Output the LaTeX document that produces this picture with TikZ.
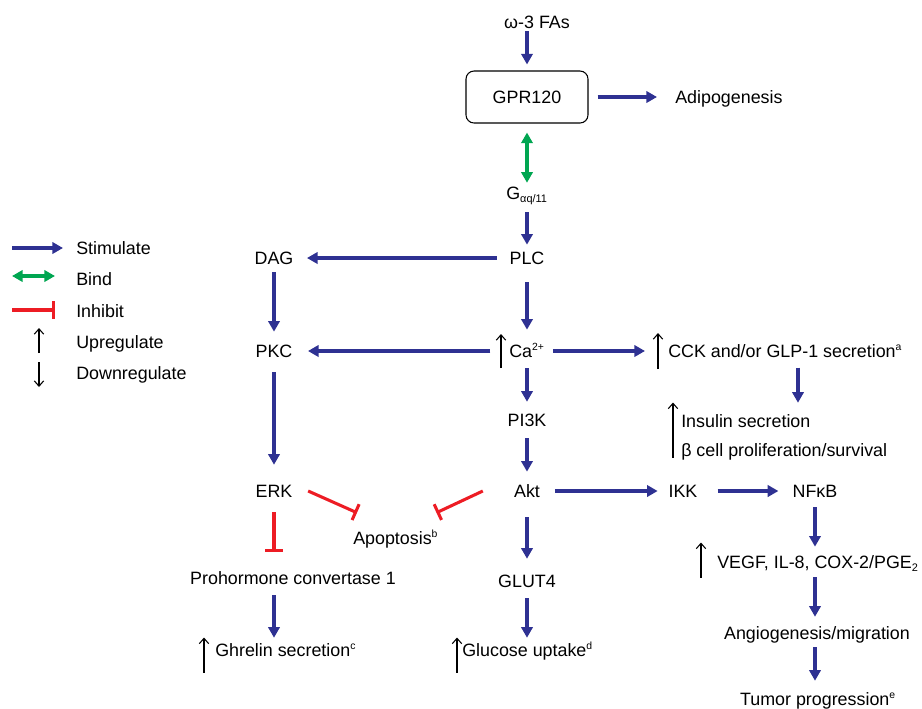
\documentclass[tikz,border=0pt]{standalone}
\usepackage{fontspec}
\setmainfont{Liberation Sans}
\usetikzlibrary{arrows.meta,calc}
\definecolor{stimblue}{RGB}{46,49,146}
\definecolor{bindgreen}{RGB}{0,166,81}
\definecolor{inhred}{RGB}{237,28,36}
\newcommand\supx[1]{\textsuperscript{\fontsize{7.8}{8}\selectfont#1}}
\newcommand\subx[1]{\textsubscript{\fontsize{8.2}{8}\selectfont#1}}

\begin{document}
\begin{tikzpicture}[x=0.75pt,y=-0.75pt,font=\fontsize{13.4}{16}\selectfont,
  txt/.style={inner sep=0pt,text height=9.6pt,text depth=0pt},
  box/.style={draw,rounded corners=6pt,line width=0.8pt,minimum width=91.5pt,minimum height=39pt,inner sep=0pt,text height=9.6pt,text depth=0pt},
  stim/.style={draw=stimblue,line width=2.3pt,-{Triangle[length=8pt,width=8.5pt]}},
  bind/.style={draw=bindgreen,line width=2.3pt,{Triangle[length=8pt,width=8.5pt]}-{Triangle[length=8pt,width=8.5pt]}},
  inh/.style={draw=inhred,line width=2.3pt,-{Bar[width=13pt]}},
  up/.style={draw,line width=0.8pt,-{Straight Barb[length=4pt,width=7pt]}},
  trim/.style 2 args={shorten <=#1,shorten >=#2}]
\useasboundingbox (0,0) rectangle (922,708);

% legend
\node[txt,anchor=west] (lgStim) at (76,248) {Stimulate};
\node[txt,anchor=west] (lgBind) at (76,279) {Bind};
\node[txt,anchor=west] (lgInh) at (76,311) {Inhibit};
\node[txt,anchor=west] (lgUp) at (76,342) {Upregulate};
\node[txt,anchor=west] (lgDown) at (76,373) {Downregulate};
\draw[stim] ($(lgStim.west)+(-64,0)$) -- ($(lgStim.west)+(-13,0)$);
\draw[bind] ($(lgBind.west)+(-64,-3)$) -- ($(lgBind.west)+(-21,-3)$);
\draw[inh] ($(lgInh.west)+(-64,-1)$) -- ($(lgInh.west)+(-21,-1)$);
\draw[up] ($(lgUp.west)+(-37,11)$) -- ($(lgUp.west)+(-37,-14)$);
\draw[up] ($(lgDown.west)+(-37,-11)$) -- ($(lgDown.west)+(-37,14)$);

% main column
\node[txt] (omega) at (537,22) {ω-3 FAs};
\node[box] (GPR) at (527,97) {GPR120};
\node[txt,anchor=west] (adipo) at (675,97) {Adipogenesis};
\node[txt] (Gq) at (527,193) {G\subx{αq/11}};
\node[txt] (PLC) at (527,258) {PLC};
\node[txt] (DAG) at (274,258) {DAG};
\node[txt] (Ca) at (527,351) {Ca\supx{2+}};
\node[txt] (PKC) at (274,351) {PKC};
\node[txt] (PI3K) at (527,420) {PI3K};
\node[txt] (Akt) at (527,491) {Akt};
\node[txt] (ERK) at (274,491) {ERK};
\node[txt] (IKK) at (683,491) {IKK};
\node[txt] (NFkB) at (815,491) {NFκB};
\node[txt,anchor=west] (CCK) at (668,351) {CCK and/or GLP-1 secretion\supx{a}};
\node[txt,anchor=west] (Ins) at (681,421) {Insulin secretion};
\node[txt,anchor=west] (Beta) at (681,450) {β cell proliferation/survival};
\node[txt,anchor=west] (Apo) at (353,538) {Apoptosis\supx{b}};
\node[txt] (Pro) at (293,578) {Prohormone convertase 1};
\node[txt] (GLUT) at (527,581) {GLUT4};
\node[txt,anchor=west] (Ghr) at (215,650) {Ghrelin secretion\supx{c}};
\node[txt,anchor=west] (Glu) at (462,650) {Glucose uptake\supx{d}};
\node[txt,anchor=west] (VEGF) at (717,562) {VEGF, IL-8, COX-2/PGE\subx{2}};
\node[txt] (Ang) at (817,633) {Angiogenesis/migration};
\node[txt] (Tum) at (818,699) {Tumor progression\supx{e}};

% upregulation marks
\coordinate (upCa) at (501,351);
\coordinate (upCCK) at (658,351);
\coordinate (upIns) at (673,430);
\coordinate (upVEGF) at (701,560);
\coordinate (upGhr) at (204,655);
\coordinate (upGlu) at (457,655);
\foreach \c/\h in {upCa/17,upCCK/18,upIns/27.5,upVEGF/17.5,upGhr/17.5,upGlu/17.5}
  \draw[up] ($(\c)+(0,\h)$) -- ($(\c)+(0,-\h)$);

% connectors
\draw[stim,trim={2pt}{4.5pt}] (omega.south -| GPR.north) -- (GPR.north);
\draw[stim,trim={6.75pt}{13.5pt}] (GPR.east) -- (adipo.west);
\draw[bind,trim={6.75pt}{2.7pt}] (GPR.south) -- (Gq.north);
\draw[stim,trim={9.5pt}{5pt}] (Gq.south) -- (PLC.north);
\draw[stim,trim={9.4pt}{10pt}] (PLC.west) -- (DAG.east);
\draw[stim,trim={13pt}{11pt}] (PLC.south) -- (Ca.north);
\draw[stim,trim={5.7pt}{9.5pt}] (DAG.south) -- (PKC.north);
\draw[stim,trim={8pt}{11.5pt}] (upCa) -- (PKC.east);
\draw[stim,trim={6pt}{9.75pt}] (Ca.east) -- (upCCK);
\path ($(CCK.south west)+(130,10)$) coordinate (cckout);
\draw[stim,trim={0pt}{8.7pt}] (cckout) -- (cckout |- Ins.north);
\draw[stim,trim={8pt}{8.7pt}] (Ca.south) -- (PI3K.north);
\draw[stim,trim={8.7pt}{9.5pt}] (PI3K.south) -- (Akt.north);
\draw[stim,trim={11pt}{14.7pt}] (PKC.south) -- (ERK.north);
\draw[stim,trim={11pt}{8pt}] (Akt.east) -- (IKK.west);
\draw[stim,trim={15pt}{10.5pt}] (IKK.east) -- (NFkB.west);
\draw[stim,trim={14.7pt}{11.7pt}] (Akt.south) -- (GLUT.north);
\draw[stim,trim={8pt}{4.2pt}] (GLUT.south) -- (GLUT.south |- Glu.north);
\draw[inh,trim={11pt}{14.7pt}] (ERK.south) -- (ERK.south |- Pro.north);
\draw[stim,trim={8pt}{4.2pt}] (ERK.south |- Pro.south) -- (ERK.south |- Ghr.north);
\draw[inh] ($(ERK.east)+(15.5,0)$) -- ($(Apo.north west)+(4,-18.6)$);
\draw[inh] ($(Akt.west)+(-31,0)$) -- ($(Apo.north east)+(-2,-18.6)$);
\draw[stim,trim={7.2pt}{6.5pt}] (NFkB.south) -- (NFkB.south |- VEGF.north);
\draw[stim,trim={6.5pt}{7.2pt}] (NFkB.south |- VEGF.south) -- (NFkB.south |- Ang.north);
\draw[stim,trim={5.7pt}{8.7pt}] (NFkB.south |- Ang.south) -- (NFkB.south |- Tum.north);
\end{tikzpicture}
\end{document}
